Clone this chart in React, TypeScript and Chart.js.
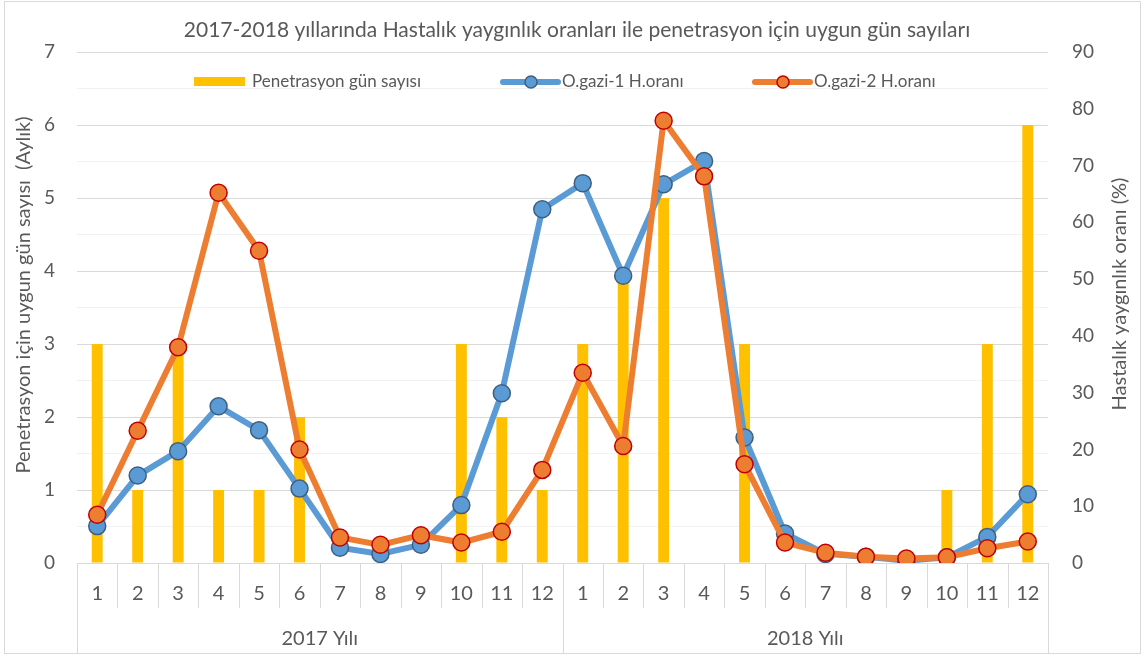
import React, { useEffect, useRef } from "react";
import { Chart, registerables } from "chart.js";

Chart.register(...registerables);

const months = ["1", "2", "3", "4", "5", "6", "7", "8", "9", "10", "11", "12"];
const years = ["2017 Yılı", "2018 Yılı"];
const categories = [...months, ...months];

const penetrasyonGun = [3, 1, 3, 1, 1, 2, 0, 0, 0, 3, 2, 1, 3, 4, 5, 0, 3, 0, 0, 0, 0, 1, 3, 6];
const ogazi1 = [6.5, 15.4, 19.7, 27.6, 23.4, 13.1, 2.7, 1.6, 3.2, 10.2, 29.9, 62.3, 66.9, 50.6, 66.7, 70.8, 22.1, 5.2, 1.6, 1.1, 0.4, 1.0, 4.6, 12.1];
const ogazi2 = [8.5, 23.3, 38.0, 65.2, 55.0, 20.0, 4.5, 3.2, 4.9, 3.6, 5.5, 16.4, 33.5, 20.6, 77.9, 68.1, 17.4, 3.6, 1.8, 1.1, 0.8, 1.0, 2.6, 3.8];

const seriesNames = ["Penetrasyon gün sayısı", "O.gazi-1 H.oranı", "O.gazi-2 H.oranı"];
const titleText = "2017-2018 yıllarında Hastalık yaygınlık oranları ile penetrasyon için uygun gün sayıları";
const leftTitle = "Penetrasyon için uygun gün sayısı  (Aylık)";
const rightTitle = "Hastalık yaygınlık oranı (%)";

const FONT = "Lato, 'Open Sans', sans-serif";
const TEXT = "#595959";
const GRID = "#d9d9d9";
const YELLOW = "#FFC000";
const BLUE = "#5B9BD5";
const BLUE_EDGE = "#3F5F80";
const ORANGE = "#ED7D31";
const ORANGE_EDGE = "#C00000";

const decorPlugin = {
  id: "decor",
  beforeDraw(chart: any) {
    const ctx = chart.ctx;
    ctx.save();
    ctx.fillStyle = "#ffffff";
    ctx.fillRect(0, 0, chart.width, chart.height);
    ctx.restore();
  },
  afterDraw(chart: any) {
    const ctx = chart.ctx;
    const xs = chart.scales.x;
    const area = chart.chartArea;
    ctx.save();
    // outer border
    ctx.strokeStyle = GRID;
    ctx.lineWidth = 1;
    ctx.strokeRect(4.5, 1.5, 1136, 652);

    // x-axis separators
    const n = categories.length;
    const step = (xs.right - xs.left) / n;
    for (let i = 0; i <= n; i++) {
      const x = Math.round(xs.left + i * step) + 0.5;
      const isGroup = i % months.length === 0;
      ctx.beginPath();
      ctx.moveTo(x, area.bottom);
      ctx.lineTo(x, isGroup ? 653 : 608);
      ctx.stroke();
    }
    // group labels
    ctx.fillStyle = TEXT;
    ctx.font = "20px " + FONT;
    ctx.textAlign = "center";
    ctx.textBaseline = "middle";
    years.forEach((y, g) => {
      const x0 = xs.left + g * months.length * step;
      const x1 = x0 + months.length * step;
      ctx.fillText(y, (x0 + x1) / 2, 639);
    });

    // title
    ctx.font = "21px " + FONT;
    ctx.fillText(titleText, 577, 30);

    // axis titles
    ctx.font = "20px " + FONT;
    ctx.save();
    ctx.translate(24, 295);
    ctx.rotate(-Math.PI / 2);
    ctx.fillText(leftTitle, 0, 0);
    ctx.restore();
    ctx.save();
    ctx.translate(1120, 294);
    ctx.rotate(-Math.PI / 2);
    ctx.fillText(rightTitle, 0, 0);
    ctx.restore();

    // legend
    const ly = 82;
    ctx.font = "17px " + FONT;
    ctx.textAlign = "left";
    ctx.fillStyle = YELLOW;
    ctx.fillRect(194, 77, 51, 9);
    ctx.fillStyle = TEXT;
    ctx.fillText(seriesNames[0], 252, ly);
    const lineItem = (x0: number, col: string, edge: string, label: string) => {
      ctx.strokeStyle = col;
      ctx.lineWidth = 6;
      ctx.lineCap = "round";
      ctx.beginPath();
      ctx.moveTo(x0, ly);
      ctx.lineTo(x0 + 55, ly);
      ctx.stroke();
      ctx.beginPath();
      ctx.arc(x0 + 28, ly, 6, 0, Math.PI * 2);
      ctx.fillStyle = col;
      ctx.fill();
      ctx.lineWidth = 1.5;
      ctx.strokeStyle = edge;
      ctx.stroke();
      ctx.fillStyle = TEXT;
      ctx.fillText(label, x0 + 59, ly);
    };
    lineItem(503, BLUE, BLUE_EDGE, seriesNames[1]);
    lineItem(755, ORANGE, ORANGE_EDGE, seriesNames[2]);
    ctx.restore();
  },
};

export default function App() {
  const ref = useRef<HTMLCanvasElement | null>(null);
  useEffect(() => {
    if (!ref.current) return;
    const chart = new Chart(ref.current, {
      type: "bar",
      data: {
        labels: categories,
        datasets: [
          {
            type: "line",
            label: seriesNames[2],
            data: ogazi2,
            yAxisID: "y1",
            borderColor: ORANGE,
            backgroundColor: ORANGE,
            borderWidth: 6,
            pointRadius: 8.5,
            pointBackgroundColor: ORANGE,
            pointBorderColor: ORANGE_EDGE,
            pointBorderWidth: 1.5,
            tension: 0,
            order: 0,
          } as any,
          {
            type: "line",
            label: seriesNames[1],
            data: ogazi1,
            yAxisID: "y1",
            borderColor: BLUE,
            backgroundColor: BLUE,
            borderWidth: 6,
            pointRadius: 8.5,
            pointBackgroundColor: BLUE,
            pointBorderColor: BLUE_EDGE,
            pointBorderWidth: 1.5,
            tension: 0,
            order: 1,
          } as any,
          {
            type: "bar",
            label: seriesNames[0],
            data: penetrasyonGun,
            yAxisID: "y",
            backgroundColor: YELLOW,
            barPercentage: 0.27,
            categoryPercentage: 1,
            order: 2,
          },
        ],
      },
      options: {
        responsive: false,
        animation: false,
        layout: { padding: { top: 52, left: 0, right: 0, bottom: 0 } },
        plugins: {
          legend: { display: false },
          title: { display: false },
          tooltip: { enabled: false },
        },
        scales: {
          x: {
            type: "category",
            offset: true,
            grid: { display: false, drawTicks: false },
            border: { display: true, color: GRID },
            ticks: {
              color: TEXT,
              font: { family: FONT, size: 20 },
              padding: 19,
              autoSkip: false,
              maxRotation: 0,
            },
            afterFit: (s: any) => {
              s.height = 94;
            },
          },
          y: {
            position: "left",
            min: 0,
            max: 7,
            ticks: {
              stepSize: 0.5,
              color: TEXT,
              font: { family: FONT, size: 19 },
              padding: 22,
              callback: (v: any) => (Number.isInteger(v) ? String(v) : ""),
            },
            grid: {
              drawTicks: false,
              color: (c: any) => (c.tick && c.tick.value % 1 === 0 ? GRID : "#f2f2f2"),
              lineWidth: 1,
            },
            border: { display: false },
            afterFit: (s: any) => {
              s.width = 77;
            },
          },
          y1: {
            position: "right",
            min: 0,
            max: 90,
            ticks: {
              stepSize: 10,
              color: TEXT,
              font: { family: FONT, size: 19 },
              padding: 24,
            },
            grid: { drawOnChartArea: false, drawTicks: false },
            border: { display: false },
            afterFit: (s: any) => {
              s.width = 99;
            },
          },
        },
      } as any,
      plugins: [decorPlugin],
    });
    return () => chart.destroy();
  }, []);
  return (
    <div style={{ position: "fixed", left: 0, top: 0, width: 1147, height: 657, background: "#fff" }}>
      <canvas ref={ref} width={1147} height={657} style={{ display: "block" }} />
    </div>
  );
}
